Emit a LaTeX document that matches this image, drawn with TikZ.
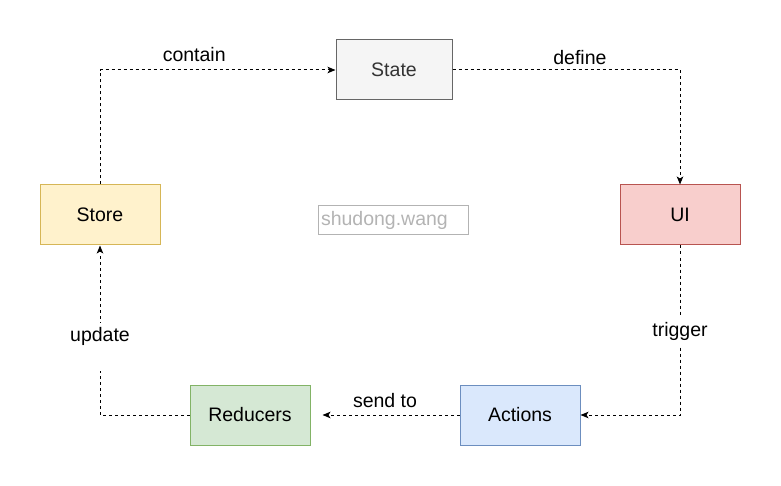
\documentclass[tikz,border=0pt]{standalone}
\usepackage{fontspec}
\setmainfont{Liberation Sans}
\usetikzlibrary{arrows.meta, positioning}
\definecolor{StateFill}{HTML}{F5F5F5}
\definecolor{StateLine}{HTML}{666666}
\definecolor{StateText}{HTML}{333333}
\definecolor{StoreFill}{HTML}{FFF2CC}
\definecolor{StoreLine}{HTML}{D6B656}
\definecolor{UIFill}{HTML}{F8CECC}
\definecolor{UILine}{HTML}{B85450}
\definecolor{ActionsFill}{HTML}{DAE8FC}
\definecolor{ActionsLine}{HTML}{6C8EBF}
\definecolor{ReducersFill}{HTML}{D5E8D4}
\definecolor{ReducersLine}{HTML}{82B366}
\definecolor{WaterGray}{HTML}{B3B3B3}

\begin{document}
\begin{tikzpicture}[
  x=1pt, y=-1pt,
  box/.style={draw, line width=1pt, minimum width=120pt, minimum height=60pt, inner sep=0pt, font=\fontsize{19.5}{23}\selectfont},
  flow/.style={draw=black, line width=1pt, dash pattern=on 3pt off 3pt, -{Stealth[length=8pt,width=6.5pt,inset=2pt]}},
  lbl/.style={font=\fontsize{19.5}{23}\selectfont, inner sep=0pt}
]
\useasboundingbox (0,0) rectangle (781,486);

\node[box, draw=StateLine, fill=StateFill, text=StateText, minimum width=116pt] (state) at (394,70) {State};
\node[box, draw=StoreLine, fill=StoreFill] (store) at (100,215) {Store};
\node[box, draw=UILine, fill=UIFill] (ui) at (680,215) {UI};
\node[box, draw=ReducersLine, fill=ReducersFill] (reducers) at (250,415) {Reducers};
\node[box, draw=ActionsLine, fill=ActionsFill] (actions) at (520,415) {Actions};
\node[
  draw=WaterGray,
  text=WaterGray,
  line width=1pt,
  minimum height=29pt,
  text width=144pt,
  inner xsep=3pt,
  inner ysep=0pt,
  align=left,
  font=\fontsize{19.5}{23}\selectfont
] (watermark) at (393,220.5) {shudong.wang};

\draw[flow] (store.north) |- (state.west) node[lbl, pos=0.7, yshift=15pt] (contain) {contain};
\draw[flow] (state.east) -| (ui.north) node[lbl, pos=0.28, yshift=12pt] (define) {define};
\draw[flow] (ui.south) |- (actions.east) node[lbl, fill=white, pos=0.253, text height=19pt, text depth=9pt, inner xsep=2pt] (trigger) {trigger};
\draw[flow, shorten >=12pt] (actions.west) -- (reducers.east) node[lbl, midway, yshift=14pt] (sendto) {send to};
\draw[flow] (reducers.west) -| (store.south) node[lbl, fill=white, pos=0.7, text height=18pt, text depth=30pt, inner xsep=2pt] (update) {update};
\end{tikzpicture}
\end{document}
